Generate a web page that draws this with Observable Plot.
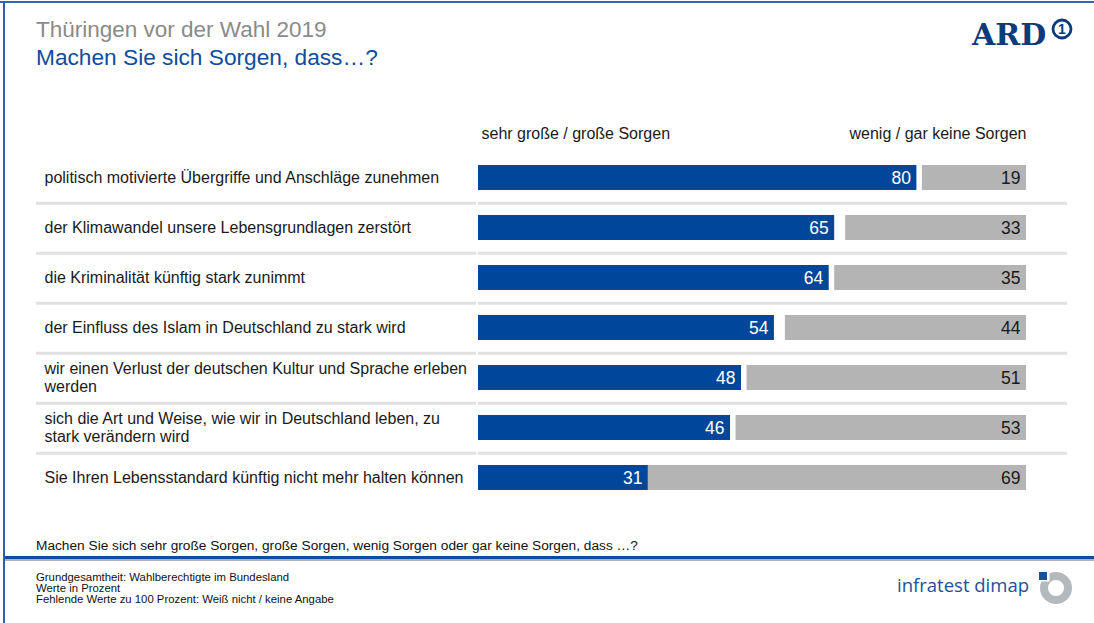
<!DOCTYPE html>
<html><head><meta charset="utf-8">
<script src="https://cdn.jsdelivr.net/npm/d3@7"></script>
<script src="https://cdn.jsdelivr.net/npm/@observablehq/plot@0.6"></script>
<style>
body{margin:0;background:#fff;}
#page{position:relative;width:1094px;height:623px;overflow:hidden;font-family:"Liberation Sans",Arial,sans-serif;background:#fff;}
.abs{position:absolute;white-space:nowrap;line-height:1;}
#chart{position:absolute;left:0;top:0;}
</style></head><body>
<div id="page">
  <div id="chart"></div>
  <div class="abs" style="left:0;top:1px;width:1094px;height:2px;background:#3567b1"></div>
  <div class="abs" style="left:3px;top:1px;width:2px;height:622px;background:#2c5fad"></div>
  <div class="abs" id="t1" style="left:36px;top:19px;font-size:22.5px;color:#8a8a8a"></div>
  <div class="abs" id="t2" style="left:36px;top:46px;font-size:22.7px;color:#0d4c9e"></div>
  <div class="abs" style="left:972px;top:20px;font-family:'DejaVu Serif',serif;font-weight:bold;font-size:30px;color:#0c3a7a">ARD</div>
  <svg class="abs" style="left:1050px;top:17px" width="24" height="24" viewBox="0 0 24 24">
    <circle cx="12" cy="12" r="9" fill="none" stroke="#0c3a7a" stroke-width="2.8"/>
    <text x="12" y="17" text-anchor="middle" font-family="Liberation Sans, Arial" font-weight="bold" font-size="14" fill="#0c3a7a">1</text>
  </svg>
  <div class="abs" id="q" style="left:36px;top:539.4px;font-size:13.7px;color:#111"></div>
  <div class="abs" style="left:5px;top:556px;width:1089px;height:2.5px;background:#0f4c9e"></div>
  <div class="abs" style="left:5px;top:558.5px;width:1089px;height:2.5px;background:#b3b3b3"></div>
  <div class="abs" id="notes" style="left:36px;top:571.8px;font-size:11.35px;line-height:11.2px;color:#111"></div>
  <div class="abs" style="left:897px;top:575.5px;font-family:'Open Sans',sans-serif;font-size:18.5px;color:#1b4f9c">infratest dimap</div>
  <svg class="abs" style="left:1038px;top:570px" width="36" height="36" viewBox="0 0 36 36">
    <circle cx="18" cy="18" r="12" fill="none" stroke="#b4b9bd" stroke-width="8"/>
    <rect x="0" y="0" width="11.5" height="11.5" fill="#fff"/>
    <rect x="1" y="2" width="8" height="8" fill="#1b4f9c"/>
  </svg>
</div>
<script>
const title = "Thüringen vor der Wahl 2019";
const subtitle = "Machen Sie sich Sorgen, dass…?";
const categories = [
  "politisch motivierte Übergriffe und Anschläge zunehmen",
  "der Klimawandel unsere Lebensgrundlagen zerstört",
  "die Kriminalität künftig stark zunimmt",
  "der Einfluss des Islam in Deutschland zu stark wird",
  "wir einen Verlust der deutschen Kultur und Sprache erleben\nwerden",
  "sich die Art und Weise, wie wir in Deutschland leben, zu\nstark verändern wird",
  "Sie Ihren Lebensstandard künftig nicht mehr halten können"
];
const sehrGrosseSorgen = [80, 65, 64, 54, 48, 46, 31];
const wenigKeineSorgen = [19, 33, 35, 44, 51, 53, 69];
const headers = ["sehr große / große Sorgen", "wenig / gar keine Sorgen"];
const question = "Machen Sie sich sehr große Sorgen, große Sorgen, wenig Sorgen oder gar keine Sorgen, dass …?";
const notes = ["Grundgesamtheit: Wahlberechtigte im Bundesland", "Werte in Prozent", "Fehlende Werte zu 100 Prozent: Weiß nicht / keine Angabe"];

document.getElementById("t1").textContent = title;
document.getElementById("t2").textContent = subtitle;
document.getElementById("q").textContent = question;
document.getElementById("notes").innerHTML = notes.map(n => n.replace(/&/g,"&amp;").replace(/</g,"&lt;")).join("<br>");

const rows = categories.map((c, i) => ({cat: c, pos: sehrGrosseSorgen[i], neg: wenigKeineSorgen[i]}));
const font = "Liberation Sans, Arial, sans-serif";

const chart = Plot.plot({
  width: 1094,
  height: 520,
  marginLeft: 36,
  marginRight: 27,
  marginTop: 120,
  marginBottom: 0,
  x: {domain: [0, 100], range: [478, 1026], axis: null},
  y: {domain: categories, range: [150.17, 504.83], paddingInner: 0.5066, paddingOuter: 0.2533, axis: null},
  style: {fontFamily: font, background: "transparent", overflow: "visible"},
  marks: [
    Plot.ruleY(categories.slice(0, -1), {dy: 25.33, stroke: "#e1e1e1", strokeWidth: 3}),
    Plot.ruleX([0], {dx: -1.5, stroke: "#fff", strokeWidth: 1.6}),
    Plot.barX(rows, {x1: 0, x2: "pos", y: "cat", fill: "#00479b"}),
    Plot.barX(rows, {x1: d => 100 - d.neg, x2: 100, y: "cat", fill: "#b4b4b4"}),
    Plot.text(rows, {x: "pos", y: "cat", text: d => String(d.pos), textAnchor: "end", dx: -6, fill: "#fff", fontSize: 17.5}),
    Plot.text(rows, {x: 100, y: "cat", text: d => String(d.neg), textAnchor: "end", dx: -6, fill: "#1a1a1a", fontSize: 17.5}),
    Plot.text(rows, {y: "cat", text: "cat", frameAnchor: "left", textAnchor: "start", dx: 8, dy: -1, fontSize: 16, lineHeight: 1.15, fill: "#1a1a1a"}),
    Plot.text([headers[0]], {x: 0, frameAnchor: "top", text: d => d, textAnchor: "start", lineAnchor: "middle", dx: 3, dy: 13, fontSize: 16, fill: "#1a1a1a"}),
    Plot.text([headers[1]], {x: 100, frameAnchor: "top", text: d => d, textAnchor: "end", lineAnchor: "middle", dx: 0, dy: 13, fontSize: 16, fill: "#1a1a1a"})
  ]
});
document.getElementById("chart").appendChild(chart);
</script>
</body></html>
